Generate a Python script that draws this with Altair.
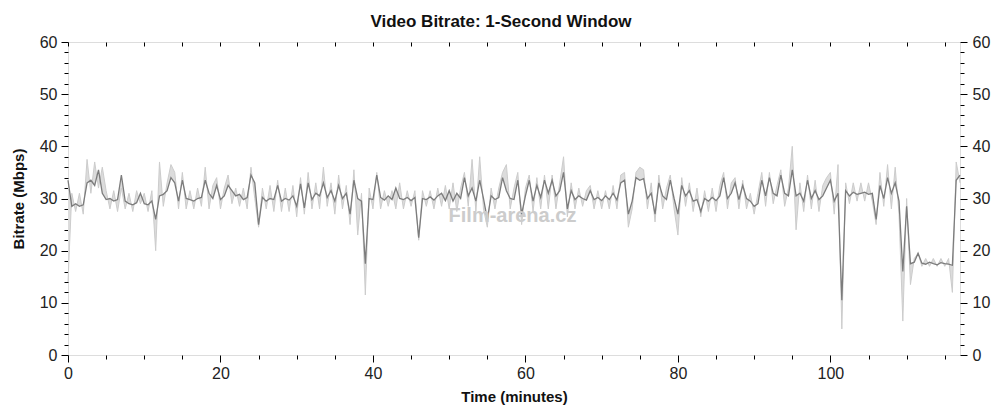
import altair as alt
import pandas as pd

# ---- data, one value every 0.5 minute ----
T_STEP = 0.5

dark = [
    33.5, 28.5, 29, 28.5, 28.8, 33, 33.5, 32.5, 35.5, 31,
    29.8, 30, 29.5, 29.8, 34.5, 29.5, 29, 28.8, 29.2, 31,
    29, 28.8, 29.5, 26, 30.5, 30.8, 31.5, 34, 33, 29.5,
    33.5, 30, 29.8, 29.5, 30, 30.2, 33.5, 31, 30, 32.5,
    29.8, 30.5, 32.5, 31.5, 30.5, 30.8, 29.8, 30.2, 34.5, 33,
    25, 30.2, 29.5, 30, 29.8, 32.5, 29.5, 30, 29.7, 30.5,
    28.5, 32.8, 28.2, 33, 29.8, 31, 30.5, 33, 30.2, 31.5,
    29.5, 32.5, 30, 31, 27, 33.5, 30, 29.5, 17.5, 30,
    29.8, 34.5, 30.2, 29.7, 30.5, 29.8, 32, 30, 29.8, 30.2,
    29.6, 30.2, 22.5, 30, 29.8, 30.3, 29.7, 30.5, 31, 29.6,
    31.5, 29.5, 31, 30, 34, 30.5, 32, 29.5, 33.5, 30,
    26, 30.5, 29.8, 30.2, 34, 31.5, 30, 29.8, 33.5, 27,
    30.5, 33.5, 29.5, 32.5, 30.2, 33.5, 31, 33.5, 30.5, 31.5,
    35, 28, 31.5, 29.8, 30.5, 30, 29.7, 31.5, 29.8, 30.2,
    29.6, 30.5, 29.8, 31, 29.7, 33, 33.5, 27, 29.5, 34,
    33.5, 33.8, 30, 31, 27, 33, 30.5, 29.8, 33.5, 30,
    27, 32.5, 30.5, 31.5, 29.5, 29.8, 27.5, 30, 29.5, 30.2,
    29.6, 30.5, 34, 30, 31, 33, 29.8, 32.5, 30, 29.5,
    28.5, 29, 33.5, 30.5, 34, 31, 30.5, 34.5, 31, 30.5,
    35.5, 30.5, 31, 29.5, 33.5, 30, 31.5, 29.8, 30.5, 32,
    33.5, 29.5, 31, 10.5, 31.5, 30.5, 31.2, 30.8, 31, 31.2,
    30.8, 31, 26, 32.5, 30, 34, 31, 33, 29.5, 16,
    28.5, 17.5, 17.8, 19.5, 17.6, 17.4, 17.8, 17.5, 17.3, 17.7,
    17.5, 17.4, 17.2, 33.5, 34.5,
]

light = [
    14, 31, 27.5, 31, 27, 37.5, 31, 37, 32, 36,
    31.5, 28, 31.5, 27.5, 32, 28, 31, 27.5, 31.5, 29,
    31, 27.5, 31.5, 20, 37, 28.5, 33, 36.5, 35, 28,
    35, 28, 31.5, 28, 32, 28.5, 36, 28, 32.5, 34,
    28, 32, 34.5, 29, 32, 28.5, 32, 28, 36, 30,
    24.5, 32, 28, 32.5, 27.5, 33.5, 27.5, 32, 27.5, 32.5,
    26.5, 34, 27, 35, 28, 33, 28, 36, 28.5, 33,
    27, 34.5, 28, 32.5, 25, 35.5, 23, 31, 11.5, 32,
    28, 35, 28, 31.5, 28.5, 31.5, 28, 33, 28, 31.5,
    28.5, 31.5, 22, 31.5, 28.5, 31.5, 28, 32, 28.5, 32.5,
    28, 33, 27.5, 32, 35, 28.5, 37.5, 27.5, 38, 28,
    24.5, 32, 28, 32, 35, 36.5, 28, 32, 35, 25,
    32, 34.5, 27.5, 34, 28, 34.5, 28, 34.5, 28, 33,
    38, 26.5, 33, 28, 32, 28.5, 31.5, 32.5, 28, 31.5,
    28, 31.5, 28, 32.5, 28, 34.5, 35, 24.5, 28, 35,
    36, 35.5, 28, 33, 25.5, 34.5, 28, 32, 34.5, 28,
    23, 34, 28.5, 33, 27.5, 32, 26.5, 31.5, 27.5, 32,
    27.5, 32.5, 35, 28, 33, 34, 28, 33.5, 28, 31,
    27, 31, 35, 28.5, 35, 29, 32.5, 35.5, 28.5, 32,
    40, 24, 33, 27.5, 34.5, 28, 33.5, 27.5, 32.5, 34,
    35, 27, 36.5, 5, 33, 29, 33, 29.5, 33, 29.5,
    33, 29.5, 25, 35, 28.5, 36.5, 28, 36, 27, 6.5,
    30, 13.5, 18.5, 19.5, 17, 18.5, 17, 18.5, 17, 18.5,
    17, 18.5, 12, 37, 33,
]

times = [i * T_STEP for i in range(len(dark))]

x_minor = list(range(0, 116, 5))
y_minor = list(range(0, 61, 2))

watermark = pd.DataFrame({"t": [58.3], "v": [26.7], "label": ["Film-arena.cz"]})

df = pd.DataFrame({"t": times, "dark": dark, "light": light})

FONT = "Liberation Sans"
W, H = 892, 313

xscale = alt.Scale(domain=[0, 117], nice=False, zero=False)
yscale = alt.Scale(domain=[0, 60], nice=False)

common = dict(
    domain=False, grid=False, tickColor="#000", tickWidth=1,
    labelColor="#222", labelFont=FONT, labelFontSize=16,
    labelFlush=False, labelOverlap=False,
    titleFont=FONT, titleFontSize=15, titleFontWeight="bold", titleColor="#111",
)

x_bottom = alt.Axis(
    orient="bottom", values=x_minor,
    labelExpr="datum.value % 20 === 0 ? datum.label : ''",
    tickSize={"condition": {"test": "datum.value % 20 === 0", "value": 7}, "value": 4},
    title="Time (minutes)", labelPadding=3, titlePadding=8, **common,
)
y_left = alt.Axis(
    orient="left", values=y_minor,
    labelExpr="datum.value % 10 === 0 ? datum.label : ''",
    tickSize={"condition": {"test": "datum.value % 10 === 0", "value": 7}, "value": 4},
    title="Bitrate (Mbps)", labelPadding=4, titlePadding=13, **common,
)
x_top = alt.Axis(
    orient="top", values=x_minor, labels=False, title=None,
    tickSize=4, offset=-4, **common,
)
y_right = alt.Axis(
    orient="right", values=y_minor,
    labelExpr="datum.value % 10 === 0 ? datum.label : ''",
    tickSize={"condition": {"test": "datum.value % 10 === 0", "value": 7}, "value": 4},
    title=None, labelPadding=5, **common,
)

base = alt.Chart(df)

light_band = base.mark_area(color="#dcdcdc", opacity=1).encode(
    x=alt.X("t:Q", scale=xscale, axis=x_bottom),
    y=alt.Y("light:Q", scale=yscale, axis=y_left),
    y2="dark:Q",
)
light_line = base.mark_line(color="#cccccc", strokeWidth=1).encode(
    x=alt.X("t:Q", scale=xscale, axis=None),
    y=alt.Y("light:Q", scale=yscale, axis=None),
)
dark_line = base.mark_line(color="#7c7c7c", strokeWidth=1.3).encode(
    x=alt.X("t:Q", scale=xscale, axis=x_top),
    y=alt.Y("dark:Q", scale=yscale, axis=y_right),
)
wm = alt.Chart(watermark).mark_text(
    font=FONT, fontSize=20, fontWeight="bold", color="#cccccc", align="center", baseline="middle"
).encode(
    x=alt.X("t:Q", scale=xscale, axis=None),
    y=alt.Y("v:Q", scale=yscale, axis=None),
    text="label:N",
)

chart = (
    alt.layer(light_band, light_line, dark_line, wm)
    .resolve_axis(x="independent", y="independent")
    .properties(
        width=W, height=H,
        title=alt.TitleParams(
            "Video Bitrate: 1-Second Window", font=FONT, fontSize=17,
            fontWeight="bold", color="#111", anchor="middle", offset=3, dx=-13,
        ),
        autosize=alt.AutoSizeParams(type="none"),
        padding={"left": 60, "top": 34, "right": 36, "bottom": 57},
    )
    .configure_view(stroke="#000", strokeWidth=1)
    .configure(background="white")
)

chart.save("out.html", embed_options={"renderer": "svg", "actions": False})
